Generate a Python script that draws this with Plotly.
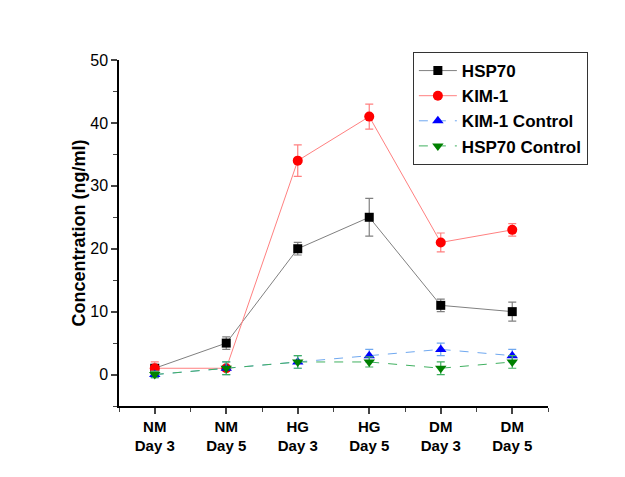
import plotly.graph_objects as go

categories = ["NM<br>Day 3", "NM<br>Day 5", "HG<br>Day 3", "HG<br>Day 5", "DM<br>Day 3", "DM<br>Day 5"]
x_pos = [0, 1, 2, 3, 4, 5]

hsp70 = [1, 5, 20, 25, 11, 10]
hsp70_err = [0.5, 1, 1, 3, 1, 1.5]
kim1 = [1, 1, 34, 41, 21, 23]
kim1_err = [1, 0.3, 2.5, 2, 1.5, 1]
kim1_ctrl = [0, 1, 2, 3, 4, 3]
kim1_ctrl_err = [0.5, 1, 1, 1, 1, 1]
hsp70_ctrl = [0, 1, 2, 2, 1, 2]
hsp70_ctrl_err = [0.5, 1, 1, 0.8, 1, 1]

series = [
    ("HSP70", hsp70, hsp70_err, "#000000", "#808080", "square", 9, "solid"),
    ("KIM-1", kim1, kim1_err, "#ff0000", "#ff8080", "circle", 10, "solid"),
    ("KIM-1 Control", kim1_ctrl, kim1_ctrl_err, "#0000ff", "#6fa8f0", "triangle-up", 10, "dash"),
    ("HSP70 Control", hsp70_ctrl, hsp70_ctrl_err, "#008000", "#40b060", "triangle-down", 10, "dash"),
]

fig = go.Figure()
for name, ys, errs, mcol, lcol, sym, sz, dash in series:
    fig.add_trace(go.Scatter(
        x=x_pos, y=ys, name=name, mode="lines+markers",
        line=dict(color=lcol, width=1, dash=dash),
        marker=dict(color=mcol, symbol=sym, size=sz),
        error_y=dict(type="data", array=errs, visible=True, color=lcol, thickness=1.2, width=4),
    ))

fig.update_layout(
    width=609, height=461,
    margin=dict(l=111, r=69, t=52, b=63, autoexpand=False),
    paper_bgcolor="white", plot_bgcolor="white",
    font=dict(family="Liberation Sans, Arial, sans-serif", size=14, color="black"),
    showlegend=True,
    legend=dict(
        x=0.685, y=1.023, xanchor="left", yanchor="top",
        bordercolor="#333333", borderwidth=1, bgcolor="white",
        font=dict(size=17, family="Liberation Sans, Arial, sans-serif", weight="bold"),
        tracegroupgap=0, itemwidth=38,
    ),
)
fig.update_xaxes(
    range=[-0.5, 5.5], tickvals=x_pos, ticktext=["<b>" + c.replace("<br>", "</b><br><b>") + "</b>" for c in categories],
    showline=True, linecolor="black", linewidth=1.5, ticks="outside", ticklen=6, tickwidth=1.5,
    showgrid=False, zeroline=False, tickfont=dict(size=15),
    minor=dict(ticks="outside", ticklen=4, tick0=0.5, dtick=1, tickwidth=1.2, showgrid=False),
)
fig.update_yaxes(
    range=[-5, 50], tickvals=[0, 10, 20, 30, 40, 50],
    showline=True, linecolor="black", linewidth=1.5, ticks="outside", ticklen=6, tickwidth=1.5,
    showgrid=False, zeroline=False, tickfont=dict(size=16),
    title=dict(text="<b>Concentration (ng/ml)</b>", font=dict(size=18), standoff=0),
    minor=dict(ticks="outside", ticklen=4, dtick=5, tickwidth=1.2, showgrid=False),
)
fig.write_html("out.html")
